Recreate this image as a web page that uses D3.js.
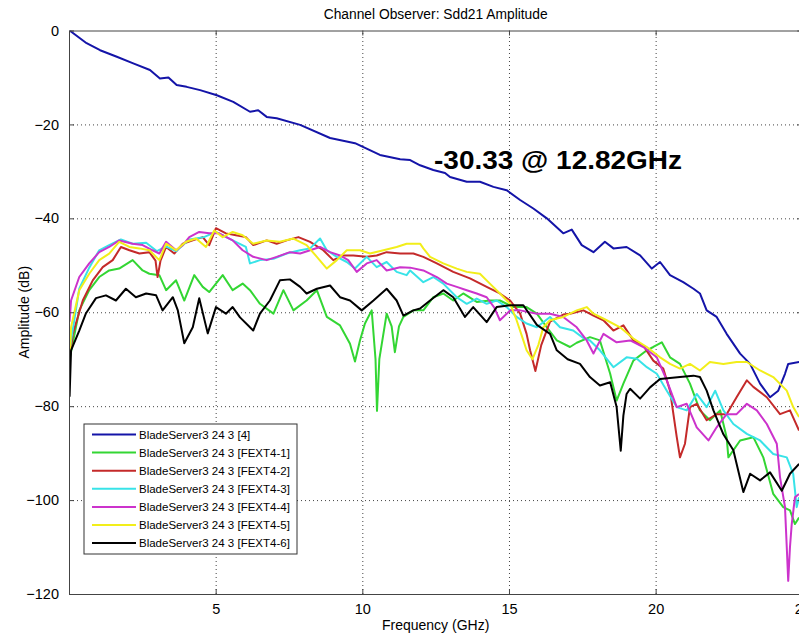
<!DOCTYPE html>
<html>
<head>
<meta charset="utf-8">
<title>Channel Observer: Sdd21 Amplitude</title>
<script src="https://cdn.jsdelivr.net/npm/d3@7/dist/d3.min.js"></script>
<style>
  body { margin: 0; background: #fff; }
  text { font-family: "Liberation Sans", Arial, sans-serif; fill: #000; }
  .grid line { stroke: #444; stroke-dasharray: 1,3; }
</style>
</head>
<body>
<script>

// values: [frequency GHz, amplitude dB]
var sdd21 = [[0.02,0],[0.60,-2.7],[1.06,-4.2],[1.63,-5.6],[2.19,-7],[2.76,-8.4],[3.10,-10.2],[3.39,-10],[3.67,-11.6],[4.01,-12],[4.47,-12.7],[5.04,-13.8],[5.60,-15.2],[6.17,-17.3],[6.45,-17],[6.74,-18.4],[7.08,-18.7],[7.88,-20.1],[8.90,-22.9],[9.75,-24],[10.60,-26.5],[11.29,-27.4],[11.63,-27.6],[11.97,-28.7],[12.42,-29.7],[12.82,-30.33],[12.99,-31.2],[13.56,-32.2],[14.01,-32.2],[14.47,-33.3],[14.92,-34],[15.38,-36.1],[15.83,-37.9],[16.29,-40],[16.85,-43.2],[17.14,-42.4],[17.48,-45.7],[17.88,-47.2],[18.27,-45],[18.56,-46.4],[19.01,-46.1],[19.47,-47.9],[19.87,-50.7],[20.15,-49.3],[20.49,-52.1],[20.94,-53.6],[21.29,-55],[21.51,-56],[21.74,-59.6],[22.08,-61],[22.42,-64.6],[22.88,-68.8],[23.22,-71],[23.56,-75.2],[23.90,-78.1],[24.18,-76.7],[24.41,-73.1],[24.52,-71],[24.89,-70.6]];

var fext1 = [[0.02,-70],[0.35,-59.6],[0.69,-55.3],[1.03,-52.5],[1.37,-51.1],[1.71,-50.7],[2.17,-48.9],[2.51,-51.1],[2.74,-51.8],[3.08,-52.1],[3.31,-55.3],[3.65,-53.2],[3.93,-57.5],[4.27,-52.1],[4.56,-54.6],[4.78,-55.7],[5.24,-52.1],[5.58,-55.3],[5.92,-53.9],[6.17,-55.3],[6.51,-58.2],[6.97,-60.3],[7.31,-55.3],[7.65,-59.6],[8.10,-57.5],[8.45,-55.3],[8.79,-61],[9.24,-62.8],[9.58,-66.7],[9.75,-70.5],[9.92,-66],[10.09,-62.4],[10.32,-59.6],[10.45,-70],[10.50,-81],[10.58,-70],[10.83,-60.3],[11.00,-63],[11.11,-68.5],[11.25,-63],[11.40,-61],[11.74,-59.6],[12.08,-59.6],[12.42,-56.8],[12.76,-56],[13.10,-57.5],[13.44,-56],[13.90,-57.8],[14.35,-57.5],[14.69,-57.5],[15.15,-58.9],[15.60,-58.9],[15.95,-60.3],[16.29,-63.2],[16.63,-66],[17.08,-67.4],[17.31,-66.5],[17.76,-65.3],[18.10,-66],[18.45,-73.1],[18.67,-78.8],[18.90,-75.2],[19.24,-70.3],[19.70,-68.1],[19.92,-67.4],[20.21,-66.4],[20.49,-69.6],[20.83,-71],[21.17,-75.2],[21.51,-80.9],[21.85,-83],[22.20,-80.9],[22.42,-86.6],[22.48,-90.9],[22.88,-87.3],[23.33,-86.6],[23.67,-90.9],[24.01,-98.7],[24.35,-101.5],[24.58,-102.2],[24.75,-105.1],[24.89,-103.7]];

var fext2 = [[0.02,-70],[0.13,-64.6],[0.47,-57.5],[0.81,-53.2],[1.15,-50.4],[1.49,-48.9],[1.77,-46.1],[2.06,-46.8],[2.40,-47.5],[2.74,-47.2],[2.95,-49],[3.02,-52.5],[3.12,-49],[3.31,-46.1],[3.59,-47.5],[3.88,-45.4],[4.22,-44.7],[4.56,-44],[4.78,-45.7],[5.01,-42.1],[5.35,-43.2],[5.69,-43.6],[6.03,-44],[6.28,-45.7],[6.74,-44.7],[7.08,-45.4],[7.42,-44.7],[7.82,-44],[8.22,-45],[8.67,-46.8],[9.01,-48.9],[9.35,-47.9],[9.69,-47.9],[10.15,-48.2],[10.49,-47.9],[10.83,-47.2],[11.29,-47.5],[11.74,-47.5],[12.08,-48.2],[12.54,-49.6],[13.10,-51.4],[13.67,-52.8],[14.24,-54.6],[14.69,-56],[15.04,-57.5],[15.38,-60.3],[15.60,-64.6],[15.72,-68.1],[15.90,-72.5],[16.10,-67],[16.40,-62],[16.85,-60.5],[17.08,-60.3],[17.54,-59.6],[17.88,-60.7],[18.22,-61.7],[18.56,-63.9],[18.90,-62.8],[19.24,-66],[19.58,-67.1],[19.92,-70.3],[20.26,-72],[20.49,-76.7],[20.72,-86.6],[20.83,-90.9],[21.00,-88],[21.17,-80.2],[21.40,-79.5],[21.74,-83],[22.08,-81.7],[22.42,-81.7],[22.76,-78.1],[23.11,-74.5],[23.33,-75.9],[23.79,-78.1],[24.24,-81.7],[24.58,-80.9],[24.89,-85.2]];

var fext3 = [[0.02,-68],[0.35,-55],[0.69,-50.5],[1.03,-46.8],[1.37,-45.7],[1.77,-44.5],[2.17,-45.4],[2.63,-45.2],[3.00,-47],[3.31,-46],[3.65,-47],[4.10,-44.5],[4.60,-44],[5.01,-42.9],[5.58,-44.7],[6.03,-46.1],[6.17,-49.6],[6.51,-48.9],[6.97,-48.6],[7.42,-47.5],[7.88,-46.8],[8.22,-46.4],[8.56,-44.3],[8.79,-46.8],[9.13,-48.2],[9.47,-49.3],[9.75,-50.7],[10.15,-48.2],[10.49,-50.4],[10.83,-49.3],[11.17,-51.4],[11.51,-52.1],[11.63,-51.1],[12.08,-53.6],[12.42,-52.5],[12.76,-53.9],[13.22,-56.8],[13.56,-58.2],[13.90,-57.1],[14.24,-58.2],[14.58,-57.5],[14.92,-58.9],[15.26,-61],[15.60,-62.4],[15.95,-63.2],[16.40,-61],[16.74,-63.2],[17.19,-63.9],[17.54,-65.5],[17.76,-66],[18.10,-68.1],[18.56,-71.7],[19.01,-69.6],[19.36,-69.9],[19.70,-71.7],[20.04,-73.1],[20.38,-76.7],[20.72,-80.2],[21.06,-80.9],[21.40,-77.4],[21.74,-80.2],[22.03,-76.7],[22.31,-80.9],[22.65,-83.8],[23.11,-85.9],[23.56,-87.3],[24.01,-90.2],[24.47,-90.9],[24.69,-94.4],[24.81,-101.5],[24.89,-99.4]];

var fext4 = [[0.02,-62],[0.07,-57.5],[0.35,-52.5],[0.69,-49.6],[1.03,-47.2],[1.37,-46.1],[1.71,-44.7],[2.17,-45.4],[2.51,-45.7],[2.85,-46.8],[3.08,-47.5],[3.31,-45],[3.65,-46.8],[3.88,-45.7],[4.10,-44],[4.44,-42.9],[4.78,-43.2],[5.12,-43.2],[5.58,-44.7],[5.92,-46.8],[6.28,-48.2],[6.74,-48.9],[7.08,-48.2],[7.53,-47.2],[7.88,-47.5],[8.22,-46.8],[8.56,-46.1],[8.90,-47.2],[9.24,-47.9],[9.52,-48.9],[9.81,-51.4],[10.15,-49.6],[10.49,-48.9],[10.83,-51.1],[11.29,-50.4],[11.63,-50.5],[12.08,-51.1],[12.54,-52.5],[12.88,-53.9],[13.22,-54.6],[13.56,-55.3],[13.90,-56],[14.24,-56.8],[14.50,-59],[14.69,-61.7],[15.04,-59.6],[15.38,-59.6],[15.95,-60.3],[16.40,-60.3],[16.85,-61],[17.31,-63.2],[17.65,-66],[17.88,-68.8],[18.22,-64.6],[18.67,-66.4],[19.13,-66],[19.58,-67.4],[20.04,-69.6],[20.38,-74.5],[20.72,-80.2],[21.06,-79.5],[21.40,-84.5],[21.80,-87.3],[22.08,-84.5],[22.42,-81.7],[22.76,-81.7],[23.11,-79.5],[23.45,-80.9],[23.79,-83.8],[24.13,-88],[24.24,-95.1],[24.41,-101.5],[24.47,-110],[24.52,-117.2],[24.58,-110],[24.64,-105.1],[24.75,-99.4],[24.89,-98.7]];

var fext5 = [[0.02,-71],[0.07,-63.2],[0.35,-55.3],[0.69,-51.8],[1.03,-48.9],[1.37,-47.5],[1.71,-45],[2.06,-46.1],[2.40,-46.4],[2.74,-46.8],[3.08,-48.9],[3.31,-45.4],[3.65,-46.8],[3.99,-45],[4.33,-44.3],[4.67,-46.1],[4.95,-42.6],[5.24,-44],[5.58,-42.9],[5.92,-43.6],[6.28,-45.4],[6.74,-44.7],[7.19,-45],[7.65,-44.3],[8.10,-45.7],[8.45,-48.2],[8.79,-50.7],[9.13,-48.9],[9.47,-46.8],[9.92,-46.8],[10.26,-47.5],[10.72,-46.8],[11.17,-46.1],[11.51,-45.4],[11.97,-45.4],[12.08,-46.4],[12.31,-48.2],[12.76,-49.6],[13.22,-50.7],[13.56,-51.4],[14.01,-51.8],[14.35,-53.9],[14.69,-56],[15.04,-58.2],[15.26,-61.7],[15.49,-66],[15.60,-68.1],[15.80,-70],[16.00,-67],[16.17,-63.2],[16.40,-61.7],[16.85,-61],[17.31,-59.6],[17.65,-58.9],[17.88,-60.3],[18.33,-61.7],[18.79,-63.2],[19.24,-65.6],[19.70,-67.4],[20.15,-69.6],[20.49,-71],[20.83,-72],[21.17,-71],[21.51,-72.4],[21.85,-70.6],[22.31,-71],[22.76,-70.6],[23.11,-70.6],[23.56,-72.4],[24.01,-73.8],[24.47,-76.7],[24.69,-80.2],[24.89,-82.3]];

var fext6 = [[0.02,-78],[0.07,-68.1],[0.35,-63.9],[0.58,-60.2],[0.92,-57],[1.26,-56.4],[1.60,-57.5],[1.94,-55],[2.28,-56.8],[2.63,-56],[2.97,-56.4],[3.19,-59.6],[3.54,-56.8],[3.71,-59.6],[3.93,-66.6],[4.22,-63.2],[4.44,-57],[4.73,-64.5],[5.01,-58.9],[5.35,-60.3],[5.58,-58.9],[5.83,-61.1],[6.28,-63.9],[6.51,-60.3],[6.85,-57.5],[7.19,-53.2],[7.53,-53],[7.88,-54.6],[8.10,-56],[8.45,-55],[8.90,-54.3],[9.24,-56.8],[9.58,-57.5],[9.98,-59.6],[10.38,-57.5],[10.83,-55],[11.17,-57.5],[11.40,-60.7],[11.74,-59.6],[11.97,-59.2],[12.31,-57.5],[12.76,-55.3],[13.10,-56.8],[13.50,-61],[13.78,-58.9],[14.24,-62.1],[14.58,-58.9],[15.04,-58.5],[15.49,-58.5],[15.95,-62.7],[16.40,-64.6],[16.63,-68.1],[17.00,-70],[17.42,-71],[17.76,-73.8],[18.10,-75.6],[18.45,-74.9],[18.67,-80.2],[18.81,-89.5],[18.90,-82],[19.01,-77.4],[19.13,-76.3],[19.47,-78.4],[19.81,-76],[20.15,-74.2],[20.83,-73.8],[21.29,-73.5],[21.51,-73.8],[21.74,-76.7],[21.97,-80.9],[22.31,-86],[22.65,-89.4],[22.99,-98.3],[23.22,-94.4],[23.56,-95.8],[23.90,-94.1],[24.30,-98],[24.58,-94.4],[24.89,-92.3]];

var seriesNames = ["BladeServer3 24 3 [4]", "BladeServer3 24 3 [FEXT4-1]", "BladeServer3 24 3 [FEXT4-2]",
                   "BladeServer3 24 3 [FEXT4-3]", "BladeServer3 24 3 [FEXT4-4]", "BladeServer3 24 3 [FEXT4-5]",
                   "BladeServer3 24 3 [FEXT4-6]"];
var seriesData = [sdd21, fext1, fext2, fext3, fext4, fext5, fext6];
var seriesColors = ["#1414a8", "#33d633", "#c42a2a", "#38e3e8", "#cc33cc", "#f2ee1a", "#000000"];

var xTicks = [5, 10, 15, 20, 25];
var yTicks = [0, -20, -40, -60, -80, -100, -120];
var marker = {f: 12.82, db: -30.33};

var W = 799, H = 634;
// plot box (right edge falls just outside the window, as in the original)
var pL = 69, pT = 30.5, pR = 802.3, pB = 594;

var x = d3.scaleLinear().domain([0, 25]).range([pL, pR]);
var y = d3.scaleLinear().domain([-120, 0]).range([pB, pT]);

var svg = d3.select("body").append("svg")
  .attr("width", W).attr("height", H);

svg.append("clipPath").attr("id", "plotclip")
  .append("rect").attr("x", pL).attr("y", pT)
  .attr("width", pR - pL).attr("height", pB - pT);

// dotted grid
svg.append("g").attr("class", "grid")
  .attr("transform", "translate(0," + pB + ")")
  .call(d3.axisBottom(x).tickValues(xTicks).tickSize(-(pB - pT)).tickFormat(""))
  .call(function(g){ g.select(".domain").remove(); });
svg.append("g").attr("class", "grid")
  .attr("transform", "translate(" + pL + ",0)")
  .call(d3.axisLeft(y).tickValues(yTicks.slice(1, -1)).tickSize(-(pR - pL)).tickFormat(""))
  .call(function(g){ g.select(".domain").remove(); });

// curves
var line = d3.line()
  .x(function(d){ return x(d[0]); })
  .y(function(d){ return y(d[1]); });

svg.append("g").attr("clip-path", "url(#plotclip)")
  .selectAll("path").data(seriesData).enter().append("path")
  .attr("d", line)
  .attr("fill", "none")
  .attr("stroke", function(d, i){ return seriesColors[i]; })
  .attr("stroke-width", 2)
  .attr("stroke-linejoin", "round");

// axes: ticks point inward like matlab
function styleAxis(g) {
  g.select(".domain").attr("stroke", "#444");
  g.selectAll(".tick line").attr("stroke", "#444");
  g.selectAll(".tick text").style("font-size", "14.5px").style("font-family", "Liberation Sans, Arial, sans-serif");
}
svg.append("g")
  .attr("transform", "translate(0," + pB + ")")
  .call(d3.axisBottom(x).tickValues(xTicks).tickSizeInner(-5).tickSizeOuter(0).tickPadding(10))
  .call(styleAxis);
svg.append("g")
  .attr("transform", "translate(0," + pT + ")")
  .call(d3.axisTop(x).tickValues(xTicks).tickSizeInner(-5).tickSizeOuter(0).tickFormat(""))
  .call(styleAxis);
svg.append("g")
  .attr("transform", "translate(" + pL + ",0)")
  .call(d3.axisLeft(y).tickValues(yTicks).tickSizeInner(-5).tickSizeOuter(0).tickPadding(10))
  .call(styleAxis);
svg.append("g")
  .attr("transform", "translate(" + pR + ",0)")
  .call(d3.axisRight(y).tickValues(yTicks).tickSizeInner(-5).tickSizeOuter(0).tickFormat(""))
  .call(styleAxis);

// titles
svg.append("text")
  .attr("x", (pL + pR) / 2).attr("y", 19)
  .attr("text-anchor", "middle").style("font-size", "13.8px")
  .text("Channel Observer: Sdd21 Amplitude");
svg.append("text")
  .attr("x", (pL + pR) / 2).attr("y", 630)
  .attr("text-anchor", "middle").style("font-size", "14px")
  .text("Frequency (GHz)");
svg.append("text")
  .attr("transform", "translate(29," + ((pT + pB) / 2) + ") rotate(-90)")
  .attr("text-anchor", "middle").style("font-size", "14px")
  .text("Amplitude (dB)");

// marker readout
svg.append("text")
  .attr("x", x(marker.f) - 11).attr("y", 169)
  .attr("textLength", 248).attr("lengthAdjust", "spacingAndGlyphs")
  .style("font-size", "25px").style("font-weight", "bold")
  .text(marker.db.toFixed(2) + " @ " + marker.f.toFixed(2) + "GHz");

// legend
var legend = svg.append("g").attr("transform", "translate(84,424)");
legend.append("rect")
  .attr("width", 213).attr("height", 130)
  .attr("fill", "#fff").attr("stroke", "#333");
var rows = legend.selectAll("g.row").data(seriesNames).enter().append("g")
  .attr("class", "row")
  .attr("transform", function(d, i){ return "translate(0," + (10.5 + i * 18.1) + ")"; });
rows.append("line")
  .attr("x1", 8).attr("x2", 52)
  .attr("stroke", function(d, i){ return seriesColors[i]; })
  .attr("stroke-width", 2);
rows.append("text")
  .attr("x", 55).attr("dy", "0.35em")
  .style("font-size", "11.5px")
  .text(function(d){ return d; });

</script>
</body>
</html>
